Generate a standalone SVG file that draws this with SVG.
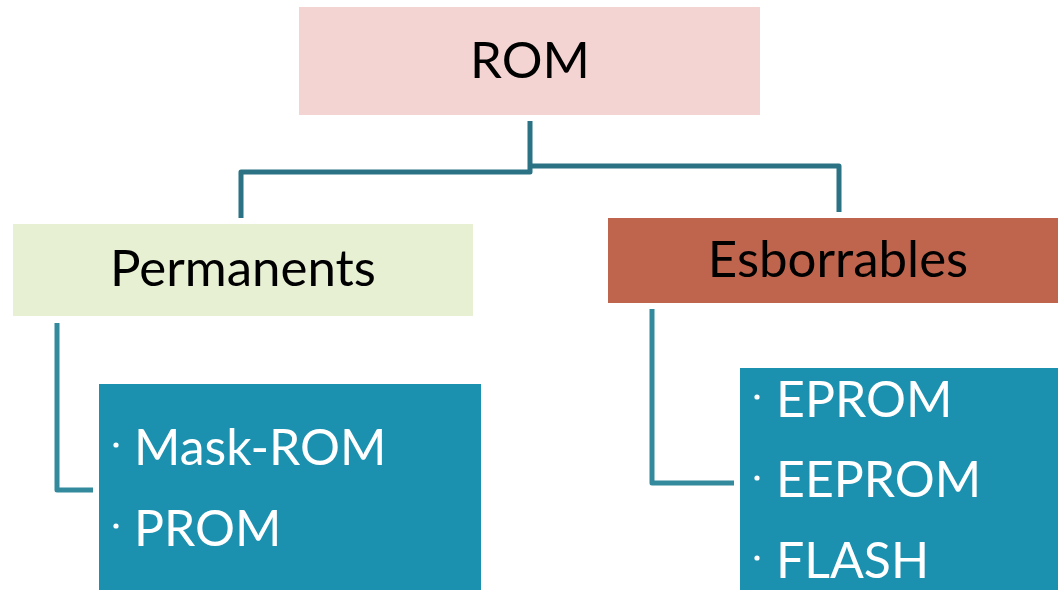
<svg xmlns="http://www.w3.org/2000/svg" width="1058" height="590" viewBox="0 0 1058 590">
  <style>
    .lbl { font-family: Lato, "Open Sans", sans-serif; }
    .head { font-size: 51px; fill: #000; text-anchor: middle; }
    .item { font-size: 50px; fill: #fff; }
    .dot { fill: #fff; }
    .link { fill: none; stroke: #2B7384; stroke-width: 5; stroke-linejoin: round; }
    .link2 { fill: none; stroke: #338A9C; stroke-width: 5; stroke-linejoin: round; }
  </style>
  <rect width="1058" height="590" fill="#fff"/>

  <g id="connectors">
    <path class="link" d="M530 121 V172 H241 V218"/>
    <path class="link" d="M530 166 H839 V212"/>
    <path class="link2" d="M57 323 V490 H93"/>
    <path class="link2" d="M652 309 V483 H734"/>
  </g>

  <g id="rom">
    <rect x="299" y="7" width="461" height="108" fill="#F4D3D3"/>
    <text class="lbl head" x="530" y="78">ROM</text>
  </g>

  <g id="permanents">
    <rect x="13" y="224" width="460" height="92" fill="#E8F0D4"/>
    <text class="lbl head" x="243" y="286">Permanents</text>
  </g>

  <g id="esborrables">
    <rect x="608" y="218" width="450" height="85" fill="#C0654D"/>
    <text class="lbl head" x="838" y="277">Esborrables</text>
  </g>

  <g id="permanents-list">
    <rect x="99" y="384" width="382" height="206" fill="#1B91AF"/>
    <circle class="dot" cx="116" cy="445" r="2.6"/>
    <text class="lbl item" x="134" y="465">Mask-ROM</text>
    <circle class="dot" cx="116" cy="526" r="2.6"/>
    <text class="lbl item" x="134" y="546">PROM</text>
  </g>

  <g id="esborrables-list">
    <rect x="740" y="368" width="318" height="222" fill="#1B91AF"/>
    <circle class="dot" cx="757" cy="397" r="2.6"/>
    <text class="lbl item" x="776" y="417">EPROM</text>
    <circle class="dot" cx="757" cy="478" r="2.6"/>
    <text class="lbl item" x="776" y="497">EEPROM</text>
    <circle class="dot" cx="757" cy="558" r="2.6"/>
    <text class="lbl item" x="776" y="578">FLASH</text>
  </g>
</svg>
